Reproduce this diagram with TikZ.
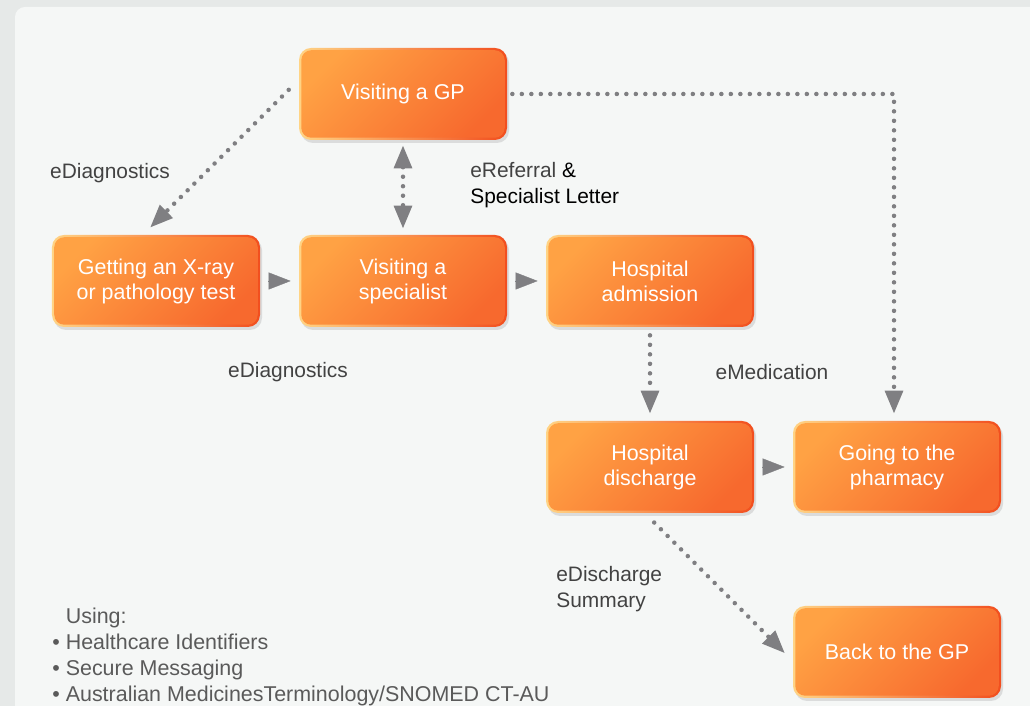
\documentclass[tikz,border=0pt]{standalone}
\usepackage{fontspec}
\setmainfont{Liberation Sans}
\usetikzlibrary{arrows.meta}
\usetikzlibrary{calc}
\usetikzlibrary{shadows}

\definecolor{bgouter}{HTML}{E6E9E8}
\definecolor{bginner}{HTML}{F5F7F6}
\definecolor{boxlight}{HTML}{FFA244}
\definecolor{boxdark}{HTML}{F7692E}
\definecolor{edgelight}{HTML}{FFD485}
\definecolor{edgedark}{HTML}{F24E1E}
\definecolor{arrowgrey}{HTML}{7F7F82}
\definecolor{labelgrey}{HTML}{424242}
\definecolor{listgrey}{HTML}{5A5A5A}

\begin{document}
\begin{tikzpicture}[
    stage/.style={rectangle, rounded corners=0.24cm, minimum width=4.16cm, minimum height=1.84cm,
        inner sep=0pt, align=center, text=white, font=\fontsize{12.2}{14.2}\selectfont,
        drop shadow={shadow xshift=0.04cm, shadow yshift=-0.06cm, opacity=0.22},
        left color=edgelight, right color=edgedark,
        path picture={\shade[top color=boxlight, bottom color=boxdark, shading angle=45, rounded corners=0.2cm]
            ($(path picture bounding box.south west)+(0.045cm,0.045cm)$) rectangle
            ($(path picture bounding box.north east)-(0.045cm,0.045cm)$);}},
    note/.style={text=labelgrey, font=\fontsize{11.9}{14.8}\selectfont, inner sep=0pt},
    dotflow/.style={draw=arrowgrey, line width=0.09cm, line cap=round, dash pattern=on 0pt off 0.19cm,
        -{Triangle[length=0.46cm, width=0.35cm]}},
    gaptip/.style={draw=arrowgrey, fill=arrowgrey, line width=0.2pt, shorten <=0.16cm, shorten >=0.16cm,
        -{Triangle[length=0.44cm, width=0.34cm]}}
  ]
    \useasboundingbox (0,0) rectangle (20.6,14.12);
    \fill[bgouter] (0,0) rectangle (20.6,14.12);
    \begin{scope}
        \clip (0,0) rectangle (20.6,14.12);
        \fill[bginner, rounded corners=0.2cm] (0.3,13.98) rectangle (21.2,-0.5);
    \end{scope}

    % stages
    \node[stage] (GP) at (8.06,12.24) {Visiting a GP};
    \node[stage] (XRay) at (3.12,8.50) {Getting an X-ray\\or pathology test};
    \node[stage] (Spec) at (8.06,8.50) {Visiting a\\specialist};
    \node[stage] (Adm) at (13.0,8.50) {Hospital\\admission};
    \node[stage] (Dis) at (13.0,4.78) {Hospital\\discharge};
    \node[stage] (Pharm) at (17.94,4.78) {Going to the\\pharmacy};
    \node[stage] (BackGP) at (17.94,1.08) {Back to the GP};

    % labels
    \node[note] (eDiagA) at (2.20,10.66) {eDiagnostics};
    \node[note, anchor=west, align=left] (eRef) at (9.40,10.41) {eReferral \textcolor{black}{\&}\\\textcolor{black}{Specialist Letter}};
    \node[note] (eDiagB) at (5.76,6.67) {eDiagnostics};
    \node[note] (eMed) at (15.44,6.68) {eMedication};
    \node[note, anchor=west, align=left] (eDis) at (11.12,2.33) {eDischarge\\Summary};
    \node[note, text=listgrey, font=\fontsize{12.2}{14.8}\selectfont, anchor=west, align=left] (using) at (1.04,0.98)
        {\phantom{\textbullet\ }Using:\\\textbullet\ Healthcare Identifiers\\\textbullet\ Secure Messaging\\\textbullet\ Australian MedicinesTerminology/SNOMED CT-AU};

    % connectors
    \draw[dotflow, shorten <=0.28cm, shorten >=0.2cm] ([yshift=0.28cm]GP.west) -- ([xshift=-0.26cm]XRay.north);
    \draw[dotflow, {Triangle[length=0.46cm, width=0.35cm]}-{Triangle[length=0.46cm, width=0.35cm]},
        shorten <=0.1cm, shorten >=0.12cm] (GP.south) -- (Spec.north);
    \draw[dotflow, shorten <=0.1cm, shorten >=0.14cm] (GP.east) -| ([xshift=-0.06cm]Pharm.north);
    \draw[dotflow, shorten <=0.16cm, shorten >=0.14cm] (Adm.south) -- (Dis.north);
    \draw[dotflow, shorten <=0.26cm, shorten >=0.22cm] ([xshift=-0.1cm]Dis.south) -- ([yshift=-0.18cm]BackGP.west);
    \draw[gaptip] (XRay) -- (Spec);
    \draw[gaptip] (Spec) -- (Adm);
    \draw[gaptip] (Dis) -- (Pharm);
\end{tikzpicture}
\end{document}
